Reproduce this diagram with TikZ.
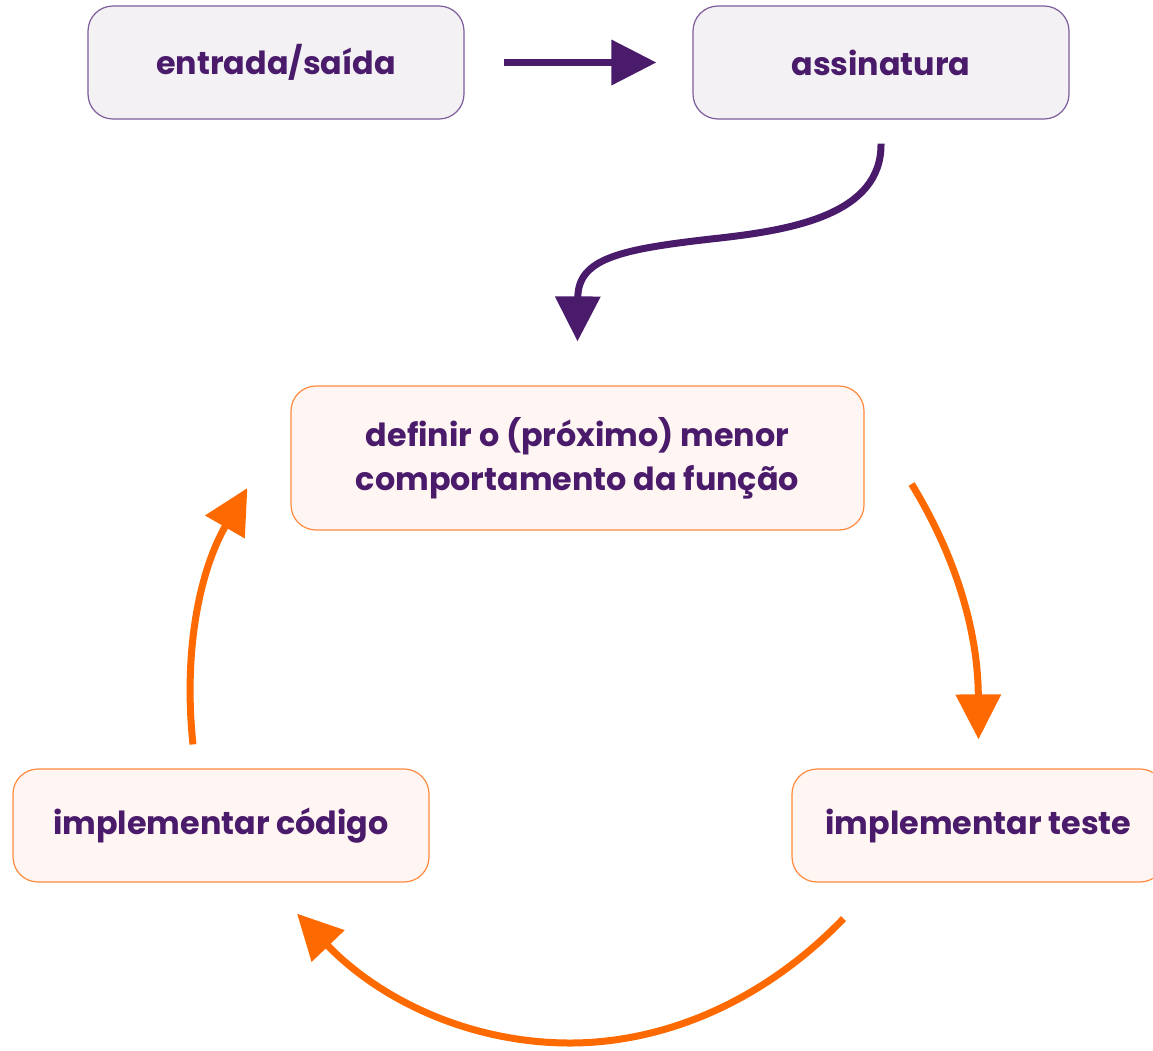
\documentclass[tikz,border=0pt]{standalone}
\usepackage{fontspec}
\setmainfont{Poppins}
\usetikzlibrary{arrows.meta}

\definecolor{roxo}{HTML}{4A1A6B}
\definecolor{roxoborda}{HTML}{7C5C9C}
\definecolor{roxofundo}{HTML}{F3F1F4}
\definecolor{laranja}{HTML}{FF6A00}
\definecolor{laranjaborda}{HTML}{FF8A3D}
\definecolor{laranjafundo}{HTML}{FFF5F2}

\begin{document}
\begin{tikzpicture}[x=1pt, y=-1pt,
    caixa/.style={rounded corners=25pt, line width=1.2pt, inner sep=0pt, align=center,
        text=roxo, font=\fontsize{31.8}{44}\selectfont\bfseries, minimum height=113pt},
    topo/.style={caixa, draw=roxoborda, fill=roxofundo, minimum width=376pt},
    ciclo/.style={caixa, draw=laranjaborda, fill=laranjafundo},
    seta roxa/.style={draw=roxo, line width=7pt, -{Triangle[length=45pt, width=44pt]}},
    seta laranja/.style={draw=laranja, line width=7pt, -{Triangle[length=45pt, width=44pt]}}]
    \useasboundingbox (0,0) rectangle (1153,1050);

    % draw nodes
    \node[topo] (entrada) at (276,62.5) {entrada/saída};
    \node[topo] (assinatura) at (881,62.5) {assinatura};
    \node[ciclo, minimum width=573pt, minimum height=144pt] (definir) at (577.5,458)
        {definir o (próximo) menor\\comportamento da função};
    \node[ciclo, minimum width=373pt] (teste) at (978.5,825.5) {implementar teste};
    \node[ciclo, minimum width=416pt] (codigo) at (221,825.5) {implementar código};

    % draw arrows
    \draw[seta roxa, shorten <=39pt, shorten >=36pt] (entrada.east) -- (assinatura.west);
    \draw[seta roxa] ([yshift=-24pt]assinatura.south)
        .. controls (882,215) and (790,230) .. (720,238)
        .. controls (620,249) and (578,258) .. ([yshift=44pt]definir.north);

    \draw[seta laranja] ([xshift=47pt, yshift=-26pt]definir.east)
        .. controls (955,555) and (978,630) .. ([yshift=29pt]teste.north);
    \draw[seta laranja] ([xshift=-135pt, yshift=-36pt]teste.south)
        .. controls (760,1005) and (660,1043) .. (570,1043)
        .. controls (470,1043) and (380,1000) .. ([xshift=76pt, yshift=-31pt]codigo.south);
    \draw[seta laranja] ([xshift=-28pt, yshift=24pt]codigo.north)
        .. controls (183,650) and (200,570) .. ([xshift=-43pt, yshift=-30pt]definir.west);
\end{tikzpicture}
\end{document}
